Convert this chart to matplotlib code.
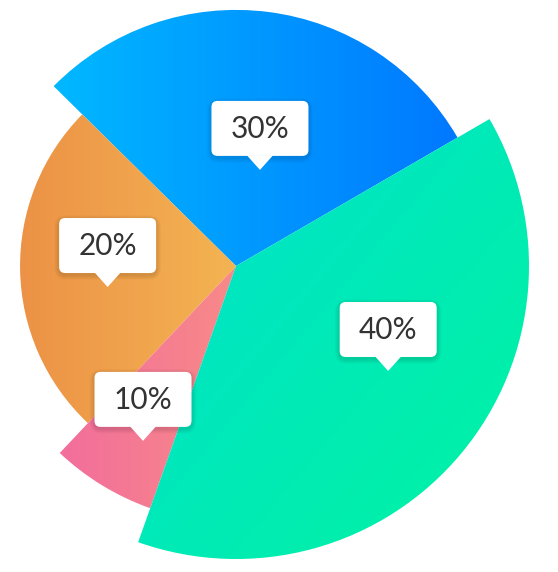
import numpy as np
import matplotlib
matplotlib.use("Agg")
import matplotlib.pyplot as plt
from matplotlib.patches import Wedge, FancyBboxPatch, Polygon
from matplotlib.colors import to_rgb

# ---- data ----
labels = ["30%", "20%", "10%", "40%"]
sweep_share = [29.25, 25.36, 6.61, 38.78]      # share of full circle (%)
radius_share = [0.874, 0.737, 0.877, 1.0]      # relative outer radius
color_from = ["#00B8FF", "#EC9246", "#F26E9C", "#00E0CE"]
color_to = ["#0078FF", "#F4B452", "#F88A88", "#00F4A0"]

# ---- layout ----
START = 30.1
CX, CY = 236, 306
RMAX = 293
grad_dir = [0, 0, 0, -40]  # gradient direction in degrees
label_ang = [76, 189.3, 242, -34.6]
label_rf = [0.338, 0.444, 0.676, 0.631]

fig = plt.figure(figsize=(5.58, 5.72), dpi=100)
ax = fig.add_axes([0, 0, 1, 1])
ax.set_xlim(0, 558)
ax.set_ylim(0, 572)
ax.set_aspect("equal")
ax.axis("off")

theta = START
for i, (s, rf) in enumerate(zip(sweep_share, radius_share)):
    t1 = theta
    t2 = theta + s * 3.6
    theta = t2
    r = rf * RMAX
    w = Wedge((CX, CY), r, t1, t2, facecolor="none", edgecolor="none")
    ax.add_patch(w)
    verts = w.get_path().vertices
    x0, y0 = verts.min(axis=0)
    x1, y1 = verts.max(axis=0)
    nx, ny = 200, 200
    xs = np.linspace(x0, x1, nx)
    ys = np.linspace(y0, y1, ny)
    X, Y = np.meshgrid(xs, ys)
    d = np.deg2rad(grad_dir[i])
    proj = X * np.cos(d) + Y * np.sin(d)
    t = (proj - proj.min()) / (proj.max() - proj.min())
    c0 = np.array(to_rgb(color_from[i]))
    c1 = np.array(to_rgb(color_to[i]))
    img = c0[None, None, :] * (1 - t[..., None]) + c1[None, None, :] * t[..., None]
    im = ax.imshow(img, extent=(x0, x1, y0, y1), origin="lower",
                   interpolation="bilinear", zorder=1)
    im.set_clip_path(w)

ax.set_xlim(0, 558)
ax.set_ylim(0, 572)

BW, BH, TH, TW = 97, 55, 14, 13
for lab, ang, rf in zip(labels, label_ang, label_rf):
    tx = CX + rf * RMAX * np.cos(np.deg2rad(ang))
    ty = CY + rf * RMAX * np.sin(np.deg2rad(ang))
    # shadow
    for k in range(1, 7):
        sh = FancyBboxPatch((tx - BW / 2 - k * 0.8, ty + TH - 2 - k * 0.8),
                            BW + k * 1.6, BH + k * 1.6,
                            boxstyle="round,pad=0,rounding_size=%g" % (6 + k),
                            facecolor="black", edgecolor="none", alpha=0.02, zorder=3)
        ax.add_patch(sh)
    box = FancyBboxPatch((tx - BW / 2, ty + TH), BW, BH,
                         boxstyle="round,pad=0,rounding_size=6",
                         facecolor="white", edgecolor="none", zorder=4)
    ax.add_patch(box)
    tri = Polygon([(tx - TW, ty + TH + 0.5), (tx + TW, ty + TH + 0.5), (tx, ty)],
                  closed=True, facecolor="white", edgecolor="none", zorder=4)
    ax.add_patch(tri)
    ax.text(tx, ty + TH + BH / 2 - 0.5, lab, ha="center", va="center",
            fontsize=21.5, color="#333333", family="Lato", zorder=5)

fig.savefig("out.png", dpi=100)
